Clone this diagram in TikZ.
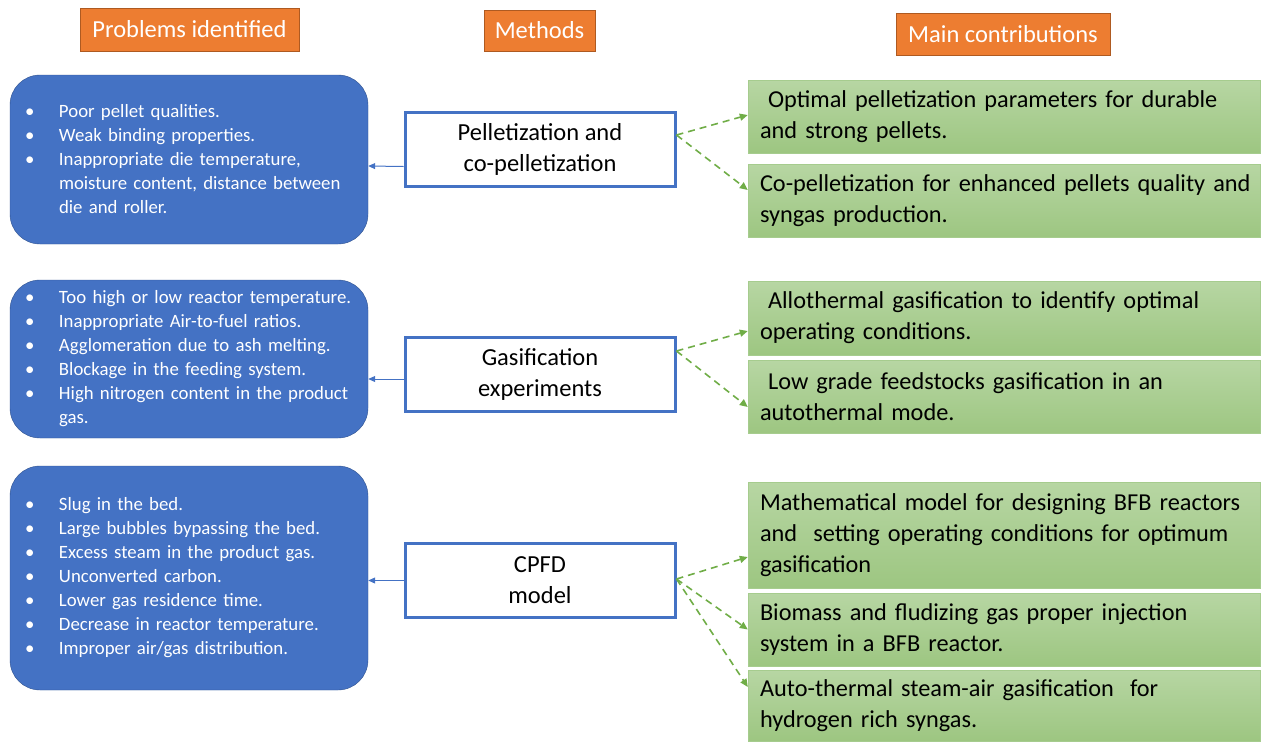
\documentclass[tikz,border=0pt]{standalone}
\usepackage{fontspec}
\setmainfont{Carlito}
\usetikzlibrary{arrows.meta}

\definecolor{hdorange}{HTML}{ED7D31}
\definecolor{hdedge}{HTML}{AE5A21}
\definecolor{pblue}{HTML}{4472C4}
\definecolor{pedge}{HTML}{2F528F}
\definecolor{gtop}{HTML}{B7D6A3}
\definecolor{gbot}{HTML}{9DC681}
\definecolor{gedge}{HTML}{A6CC8E}
\definecolor{garrow}{HTML}{70AD47}

\newcommand{\bul}{\makebox[34pt][l]{\textbullet}}
\newcommand{\ind}{\hspace*{34pt}}

\begin{document}
\begin{tikzpicture}[x=1pt,y=-1pt,
head/.style={draw=hdedge,fill=hdorange,text=white,inner sep=0pt,font=\fontsize{24.5}{30}\selectfont},
prob/.style={draw=pedge,fill=pblue,text=white,rounded corners=30pt,text width=328pt,inner xsep=15pt,align=left,font=\fontsize{18.8}{24}\selectfont},
meth/.style={draw=pblue,line width=3pt,fill=white,minimum width=270pt,minimum height=74pt,align=center,font=\fontsize{24.5}{31}\selectfont},
contr/.style={draw=gedge,top color=gtop,bottom color=gbot,text width=488pt,inner xsep=12pt,align=left,font=\fontsize{24.3}{31}\selectfont},
back/.style={-{Triangle[length=7pt,width=6pt]},draw=pblue,line width=1pt},
gen/.style={-{Triangle[length=8pt,width=7pt]},draw=garrow,line width=1.6pt,dash pattern=on 7pt off 5pt}]
\useasboundingbox (0,0) rectangle (1263,742);

% column heads
\node[head,minimum width=219pt,minimum height=43pt] (h1) at (189.5,29.5) {Problems identified};
\node[head,minimum width=111pt,minimum height=41pt] (h2) at (539.5,30.5) {Methods};
\node[head,minimum width=214pt,minimum height=42pt] (h3) at (1003,34) {Main contributions};

% problems
\node[prob,minimum height=169pt] (p1) at (189,159.5) {\bul Poor pellet qualities.\\
\bul Weak binding properties.\\
\bul Inappropriate die temperature,\\
\ind\mbox{moisture content, distance between}\\
\ind die and roller.};

\node[prob,minimum height=158pt] (p2) at (189,359) {\bul\mbox{Too high or low reactor temperature.}\\
\bul Inappropriate Air-to-fuel ratios.\\
\bul Agglomeration due to ash melting.\\
\bul Blockage in the feeding system.\\
\bul\mbox{High nitrogen content in the product}\\
\ind gas.};

\node[prob,minimum height=224pt] (p3) at (189,578) {\bul Slug in the bed.\\
\bul Large bubbles bypassing the bed.\\
\bul Excess steam in the product gas.\\
\bul Unconverted carbon.\\
\bul Lower gas residence time.\\
\bul Decrease in reactor temperature.\\
\bul Improper air/gas distribution.};

% methods
\node[meth] (m1) at (540,149.5) {Pelletization and\\co-pelletization};
\node[meth] (m2) at (540,374.5) {Gasification\\experiments};
\node[meth] (m3) at (540,580.5) {CPFD\\model};

% contributions
\node[contr,minimum height=73pt] (c1) at (1004,116.5) {\ Optimal pelletization parameters for durable\\and strong pellets.};
\node[contr,minimum height=73pt] (c2) at (1004,200.5) {\mbox{Co-pelletization for enhanced pellets quality and}\\syngas production.};
\node[contr,minimum height=74pt] (c3) at (1004,318) {\ Allothermal gasification to identify optimal\\operating conditions.};
\node[contr,minimum height=73pt] (c4) at (1004,397) {\ Low grade feedstocks gasification in an\\autothermal mode.};
\node[contr,minimum height=106pt] (c5) at (1004,535) {\mbox{Mathematical model for designing BFB reactors}\\and\ \ setting operating conditions for optimum\\gasification};
\node[contr,minimum height=73pt] (c6) at (1004,629.5) {Biomass and fludizing gas proper injection\\system in a BFB reactor.};
\node[contr,minimum height=71pt] (c7) at (1004,705.5) {Auto-thermal steam-air gasification\ \ for\\hydrogen rich syngas.};

\draw[back] ([yshift=-17pt]m1.west) -- ([yshift=-6.5pt]p1.east);
\draw[back] ([yshift=-4.5pt]m2.west) -- ([yshift=-20pt]p2.east);
\draw[back] (m3.west) -- ([yshift=-2.5pt]p3.east);

\draw[gen] ([yshift=14.5pt]m1.east) -- ([yshift=1.5pt]c1.west);
\draw[gen] ([yshift=14.5pt]m1.east) -- ([yshift=10.5pt]c2.west);

\draw[gen] ([yshift=23.5pt]m2.east) -- ([yshift=-13pt]c3.west);
\draw[gen] ([yshift=23.5pt]m2.east) -- ([yshift=-10pt]c4.west);

\draw[gen] ([yshift=1.5pt]m3.east) -- ([yshift=-22pt]c5.west);
\draw[gen] ([yshift=1.5pt]m3.east) -- (c6.west);
\draw[gen] ([yshift=1.5pt]m3.east) -- ([yshift=18.5pt]c7.west);
\end{tikzpicture}
\end{document}
